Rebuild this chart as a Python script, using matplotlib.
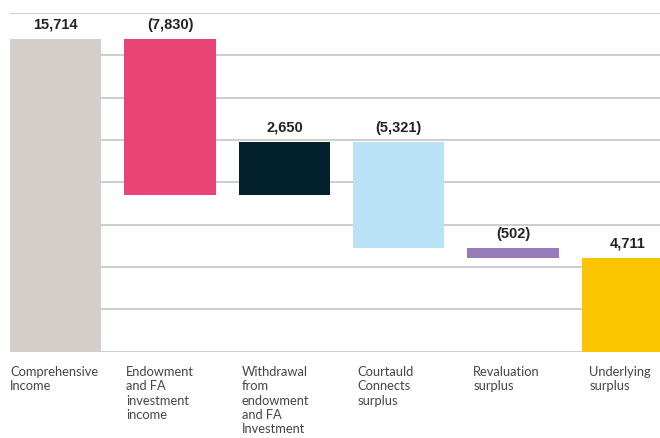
import matplotlib
matplotlib.use("Agg")
import matplotlib.pyplot as plt
import numpy as np

# ---- data ----
categories = ["Comprehensive\nIncome",
              "Endowment\nand FA\ninvestment\nincome",
              "Withdrawal\nfrom\nendowment\nand FA\nInvestment",
              "Courtauld\nConnects\nsurplus",
              "Revaluation\nsurplus",
              "Underlying\nsurplus"]
changes = [15714, -7830, 2650, -5321, -502]
labels = ["15,714", "(7,830)", "2,650", "(5,321)", "(502)", "4,711"]
colors = ["#d3ceca", "#e84475", "#02212c", "#b9e2f6", "#977bb9", "#fdc500"]

# ---- waterfall geometry from the values ----
bottoms, heights = [], []
running = 0
for c in changes:
    new = running + c
    bottoms.append(min(running, new))
    heights.append(abs(c))
    running = new
bottoms.append(0)
heights.append(running)

x = np.arange(len(categories))

fig = plt.figure(figsize=(6.6, 4.39), dpi=100)
ax = fig.add_axes([10 / 660, 86.3 / 439, 650 / 660, 338.7 / 439])

ymax = 17020
ax.set_ylim(0, ymax)
ax.set_xlim(-0.4, 5.285)

for yv in np.linspace(0, ymax, 9):
    ax.axhline(yv, color="#c9c9c9", lw=1.3, zorder=0)

ax.bar(x, heights, bottom=bottoms, width=0.8, color=colors, zorder=2)

for xi, b, h, lab in zip(x, bottoms, heights, labels):
    ax.annotate(lab, (xi, b + h), xytext=(0, 11), textcoords="offset points",
                ha="center", va="center", fontsize=10.5, fontweight="bold",
                family="Liberation Sans", color="#222222")

for i, cat in enumerate(categories):
    ax.text(i * 1.013 - 0.40, -0.04, cat, transform=ax.get_xaxis_transform(),
            ha="left", va="top", fontsize=9.3, family="Lato",
            color="#444444", linespacing=1.22)

for s in ax.spines.values():
    s.set_visible(False)
ax.set_xticks([])
ax.set_yticks([])

fig.savefig("out.png", dpi=100)
